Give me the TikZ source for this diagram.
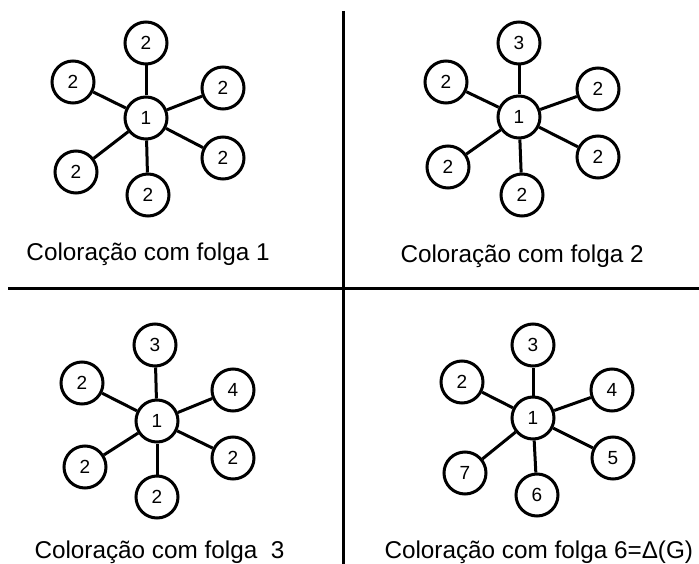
\documentclass[tikz,border=0pt]{standalone}
\usepackage{fontspec}
\setmainfont{Liberation Sans}
\usepackage{tikz}

\begin{document}
\begin{tikzpicture}
				[x=1pt,y=-1pt,every node/.style={circle,draw,line width=3pt,minimum size=42pt,inner sep=0pt,font=\fontsize{19}{22}\selectfont}, edge/.style={line width=3pt}, legenda/.style={draw=none,rectangle,anchor=base west,minimum size=0pt,font=\fontsize{24.3}{29}\selectfont}]
				\useasboundingbox (0,0) rectangle (699,564);
				% linhas separadoras
				\draw[line width=3pt] (8,288) -- (699,288);
				\draw[line width=3pt] (343,11) -- (343,564);

				% folga 1
				\node (a0) at (146,118)  {1};
				\node (a1) at (146,43)  {2};
				\node (a2) at (73,82)  {2};
				\node (a3) at (223,88)  {2};
				\node (a4) at (223,158)  {2};
				\node (a5) at (148,195)  {2};
				\node (a6) at (76,172)  {2};
				\foreach \i in {1,...,6}
					\draw[edge] (a0) to (a\i);
				\node[legenda] (la) at (25,261) {Coloração com folga 1};

				% folga 2
				\node (b0) at (519,117)  {1};
				\node (b1) at (519,43)  {3};
				\node (b2) at (446,82)  {2};
				\node (b3) at (598,89)  {2};
				\node (b4) at (598,157)  {2};
				\node (b5) at (522,195)  {2};
				\node (b6) at (448,167)  {2};
				\foreach \i in {1,...,6}
					\draw[edge] (b0) to (b\i);
				\node[legenda] (lb) at (399,262) {Coloração com folga 2};

				% folga 3
				\node (c0) at (157,421)  {1};
				\node (c1) at (155,345)  {3};
				\node (c2) at (82,383)  {2};
				\node (c3) at (233,390)  {4};
				\node (c4) at (233,458)  {2};
				\node (c5) at (157,497)  {2};
				\node (c6) at (85,467)  {2};
				\foreach \i in {1,...,6}
					\draw[edge] (c0) to (c\i);
				\node[legenda] (lc) at (33,558) {Coloração com folga\ \ 3};

				% folga 6
				\node (d0) at (533,418)  {1};
				\node (d1) at (533,345)  {3};
				\node (d2) at (462,382)  {2};
				\node (d3) at (612,390)  {4};
				\node (d4) at (613,458)  {5};
				\node (d5) at (537,495)  {6};
				\node (d6) at (465,473)  {7};
				\foreach \i in {1,...,6}
					\draw[edge] (d0) to (d\i);
				\node[legenda] (ld) at (383,558) {Coloração com folga 6=Δ(G)};
				\end{tikzpicture}
\end{document}
